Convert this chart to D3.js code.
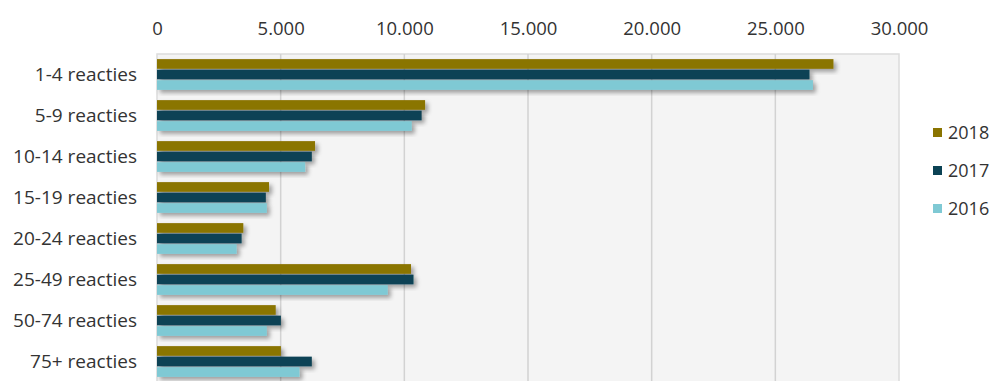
<!DOCTYPE html>
<html>
<head>
<meta charset="utf-8">
<script src="https://cdn.jsdelivr.net/npm/d3@7"></script>
<style>
  body { margin: 0; background: #fff; }
  svg { display: block; }
  text { font-family: "Open Sans", sans-serif; fill: #333; }
</style>
</head>
<body>
<div id="chart"></div>
<script>
// Aantal reacties per categorie, 2016-2018
const categories = ['1-4 reacties', '5-9 reacties', '10-14 reacties', '15-19 reacties',
    '20-24 reacties', '25-49 reacties', '50-74 reacties', '75+ reacties'];
const years = ['2018', '2017', '2016'];
const values2018 = [27350, 10840, 6390, 4530, 3490, 10270, 4800, 5010];
const values2017 = [26380, 10700, 6260, 4400, 3420, 10370, 5010, 6260];
const values2016 = [26520, 10300, 5990, 4440, 3220, 9330, 4440, 5760];
const ticks = [0, 5000, 10000, 15000, 20000, 25000, 30000];
const colors = ['#8a7400', '#0b4254', '#7fc9d4'];

const width = 995, height = 381;
const margin = { top: 54, left: 157, right: 96 };
const plotRight = width - margin.right;
const plotBottom = margin.top + 41 * categories.length;

const seriesByYear = { '2018': values2018, '2017': values2017, '2016': values2016 };
const data = categories.map((c, i) => ({
    name: c,
    values: years.map(y => ({ year: y, value: seriesByYear[y][i] }))
}));

const svg = d3.select('#chart')
    .append('svg')
    .attr('width', width)
    .attr('height', height);

const defs = svg.append('defs');
defs.append('filter')
    .attr('id', 'shadow')
    .attr('x', '-5%').attr('y', '-30%')
    .attr('width', '115%').attr('height', '190%')
    .append('feDropShadow')
    .attr('dx', 3).attr('dy', 3)
    .attr('stdDeviation', 2)
    .attr('flood-color', '#000')
    .attr('flood-opacity', 0.35);

const xScale = d3.scaleLinear()
    .domain([0, 30000])
    .range([margin.left, plotRight]);

const yScale = d3.scaleBand()
    .domain(categories)
    .range([margin.top, plotBottom])
    .paddingInner(0.25)
    .paddingOuter(0.125);

const yInner = d3.scaleBand()
    .domain(years)
    .range([0, yScale.bandwidth()])
    .paddingInner(0.08);

const color = d3.scaleOrdinal().domain(years).range(colors);

// plot background
svg.append('rect')
    .attr('x', margin.left)
    .attr('y', margin.top)
    .attr('width', plotRight - margin.left)
    .attr('height', plotBottom - margin.top)
    .attr('fill', '#f4f4f4')
    .attr('stroke', '#dcdcdc')
    .attr('stroke-width', 1.5);

// gridlines
svg.append('g')
    .selectAll('line')
    .data(ticks.slice(1, -1))
    .join('line')
    .attr('x1', d => xScale(d))
    .attr('x2', d => xScale(d))
    .attr('y1', margin.top)
    .attr('y2', plotBottom)
    .attr('stroke', '#d2d2d2')
    .attr('stroke-width', 1.5);

// top axis, labels only
const fmt = d => d3.format(',')(d).replace(/,/g, '.');
const axis = svg.append('g')
    .attr('transform', `translate(0,${margin.top - 19})`)
    .call(d3.axisTop(xScale).tickValues(ticks).tickFormat(fmt).tickSize(0).tickPadding(0));
axis.select('.domain').remove();
axis.selectAll('text')
    .style('font-family', '"Open Sans", sans-serif')
    .style('font-size', '18.5px')
    .attr('fill', '#333');

// bars
const groups = svg.append('g')
    .selectAll('g')
    .data(data)
    .join('g')
    .attr('transform', d => `translate(0,${yScale(d.name)})`);

groups.selectAll('rect')
    .data(d => d.values)
    .join('rect')
    .attr('x', xScale(0))
    .attr('y', d => yInner(d.year))
    .attr('width', d => xScale(d.value) - xScale(0))
    .attr('height', yInner.bandwidth())
    .attr('fill', d => color(d.year))
    .attr('filter', 'url(#shadow)');

// category labels
svg.append('g')
    .selectAll('text')
    .data(categories)
    .join('text')
    .attr('x', margin.left - 20)
    .attr('y', d => yScale(d) + yScale.bandwidth() / 2)
    .attr('dy', '0.35em')
    .attr('text-anchor', 'end')
    .style('font-size', '19px')
    .text(d => d);

// legend
const legend = svg.append('g')
    .selectAll('g')
    .data(years)
    .join('g')
    .attr('transform', (d, i) => `translate(933,${133 + i * 38})`);

legend.append('rect')
    .attr('x', 0)
    .attr('y', -5)
    .attr('width', 9)
    .attr('height', 9)
    .attr('fill', d => color(d));

legend.append('text')
    .attr('x', 15)
    .attr('dy', '0.35em')
    .style('font-size', '18px')
    .text(d => d);
</script>
</body>
</html>
